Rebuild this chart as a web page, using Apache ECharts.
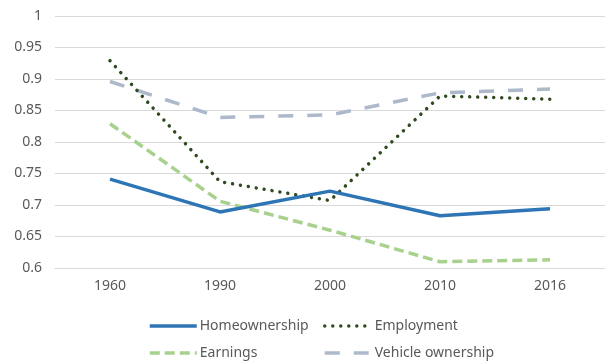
<!DOCTYPE html>
<html>
<head>
<meta charset="utf-8">
<script src="https://cdn.jsdelivr.net/npm/echarts@6/dist/echarts.min.js"></script>
<style>
html,body{margin:0;padding:0;background:#fff;}
#chart{width:605px;height:362px;}
</style>
</head>
<body>
<div id="chart"></div>
<script>
const categories = ['1960', '1990', '2000', '2010', '2016'];
const homeownership = [0.741, 0.689, 0.722, 0.683, 0.694];
const employment = [0.929, 0.737, 0.707, 0.873, 0.868];
const earnings = [0.829, 0.706, 0.660, 0.610, 0.613];
const vehicleOwnership = [0.896, 0.839, 0.843, 0.878, 0.884];
const seriesNames = ['Homeownership', 'Employment', 'Earnings', 'Vehicle ownership'];

const FONT = '"Noto Sans", sans-serif';
const TEXT = '#595959';

const chart = echarts.init(document.getElementById('chart'), null, {renderer: 'canvas'});

function legendAt(name, left, top) {
  return {
    data: [name],
    left: left, top: top,
    itemWidth: 47, itemHeight: 12,
    itemGap: 0,
    padding: 0,
    itemStyle: {opacity: 0},
    lineStyle: {width: 3.5},
    textStyle: {color: TEXT, fontFamily: FONT, fontSize: 14, padding: [0, 0, 0, -2]},
    selectedMode: false
  };
}

chart.setOption({
  animation: false,
  backgroundColor: '#fff',
  grid: {left: 55, top: 16, width: 557, height: 252},
  legend: [
    legendAt(seriesNames[0], 148, 319),
    legendAt(seriesNames[1], 323, 319),
    legendAt(seriesNames[2], 148, 346),
    legendAt(seriesNames[3], 323, 346)
  ],
  xAxis: {
    type: 'category',
    data: categories,
    boundaryGap: true,
    axisLine: {show: true, lineStyle: {color: '#d9d9d9', width: 1}},
    axisTick: {show: false},
    axisLabel: {color: TEXT, fontFamily: FONT, fontSize: 14, margin: 11}
  },
  yAxis: {
    type: 'value',
    min: 0.6, max: 1, interval: 0.05,
    axisLine: {show: false},
    axisTick: {show: false},
    splitLine: {lineStyle: {color: '#d9d9d9', width: 1}},
    axisLabel: {color: TEXT, fontFamily: FONT, fontSize: 14, margin: 13,
      formatter: v => String(Math.round(v * 100) / 100)}
  },
  series: [
    {name: seriesNames[0], type: 'line', data: homeownership, symbol: 'none',
     lineStyle: {color: '#2e75b6', width: 3.5, join: 'round'}, itemStyle: {color: '#2e75b6'}, z: 5},
    {name: seriesNames[1], type: 'line', data: employment, symbol: 'none',
     lineStyle: {color: '#2f4a1f', width: 3.5, type: [0.01, 8], cap: 'round'}, itemStyle: {color: '#2f4a1f'}, z: 4},
    {name: seriesNames[2], type: 'line', data: earnings, symbol: 'none',
     lineStyle: {color: '#a9d18e', width: 3.5, type: [10, 5]}, itemStyle: {color: '#a9d18e'}, z: 3},
    {name: seriesNames[3], type: 'line', data: vehicleOwnership, symbol: 'none',
     lineStyle: {color: '#adb9ca', width: 3.5, type: [15, 14]}, itemStyle: {color: '#adb9ca'}, z: 2}
  ]
});
</script>
</body>
</html>
